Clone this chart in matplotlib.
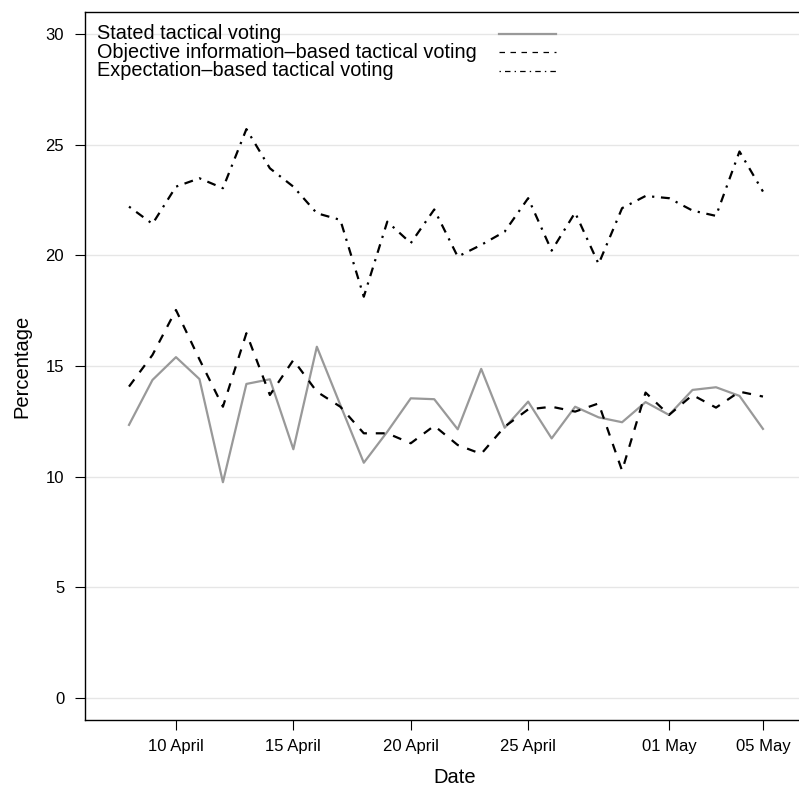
import numpy as np
import matplotlib.pyplot as plt
import matplotlib.dates as mdates

plt.rcParams['font.family'] = ['Liberation Sans', 'DejaVu Sans']

# daily series, 8 April .. 5 May
dates = np.arange(np.datetime64('2015-04-08'), np.datetime64('2015-05-06'))

stated = [12.34, 14.37, 15.40, 14.41, 9.75, 14.19, 14.40, 11.24, 15.87, 13.24,
          10.63, 12.03, 13.54, 13.50, 12.14, 14.87, 12.21, 13.39, 11.73, 13.16,
          12.68, 12.46, 13.37, 12.79, 13.92, 14.04, 13.65, 12.16]
objective = [14.07, 15.50, 17.53, 15.30, 13.16, 16.48, 13.69, 15.27, 13.84, 13.16,
             11.96, 11.96, 11.51, 12.30, 11.43, 11.03, 12.26, 13.04, 13.16, 12.94,
             13.31, 10.27, 13.80, 12.79, 13.69, 13.12, 13.84, 13.62]
expectation = [22.20, 21.42, 23.10, 23.48, 23.03, 25.70, 23.93, 23.10, 21.90, 21.60,
               18.13, 21.52, 20.55, 22.07, 19.94, 20.47, 21.07, 22.58, 20.21, 21.93,
               19.61, 22.13, 22.68, 22.58, 22.02, 21.78, 24.69, 22.88]

labels = ['Stated tactical voting',
          'Objective information\u2013based tactical voting',
          'Expectation\u2013based tactical voting']
tick_dates = ['2015-04-10', '2015-04-15', '2015-04-20', '2015-04-25', '2015-05-01', '2015-05-05']
tick_labels = ['10 April', '15 April', '20 April', '25 April', '01 May', '05 May']
yticks = [0, 5, 10, 15, 20, 25, 30]

fig = plt.figure(figsize=(7.99, 7.89), dpi=100)
W, H = 799, 789
ax_w, ax_h = 740, 708
ax = fig.add_axes([85 / W, 1 - 720 / H, ax_w / W, ax_h / H])

styles = [dict(color='#999999', lw=1.6),
          dict(color='black', lw=1.6, dashes=(4, 4)),
          dict(color='black', lw=1.6, dashes=(1, 3, 4, 3))]
for series, st in zip([stated, objective, expectation], styles):
    ax.plot(dates, series, **st)

for y in yticks:
    ax.axhline(y, color='#e6e6e6', lw=1, zorder=0)

x0 = mdates.date2num(np.datetime64('2015-04-08'))
ax.set_xlim(x0 - 1.874, x0 - 1.874 + ax_w / 23.48)
ax.set_ylim(-0.99, 30.99)

ax.set_xticks([mdates.date2num(np.datetime64(d)) for d in tick_dates])
ax.set_xticklabels(tick_labels)
ax.set_yticks(yticks)
ax.tick_params(direction='out', length=7, width=0.8, labelsize=12)
ax.tick_params(axis='x', pad=7)
ax.tick_params(axis='y', pad=8)
for s in ax.spines.values():
    s.set_linewidth(1.0)

ax.set_xlabel('Date', fontsize=14.5, labelpad=10)
ax.set_ylabel('Percentage', fontsize=14.5, labelpad=10)

# legend drawn by hand: text left, line sample on the right
rows_px = [33.5, 52, 71]
for lab, st, ry in zip(labels, styles, rows_px):
    yf = 1 - (ry - 12) / ax_h
    ax.text((97 - 85) / ax_w, yf, lab, transform=ax.transAxes, fontsize=14.3,
            ha='left', va='center')
    lst = dict(st)
    if 'dashes' in lst:
        lst['lw'] = 0.9
        lst['dashes'] = tuple(d * 1.1 for d in lst['dashes'])
    ax.plot([(499 - 85) / ax_w, (556 - 85) / ax_w], [yf, yf], transform=ax.transAxes,
            clip_on=False, **lst)

fig.savefig('out.png', dpi=100)
